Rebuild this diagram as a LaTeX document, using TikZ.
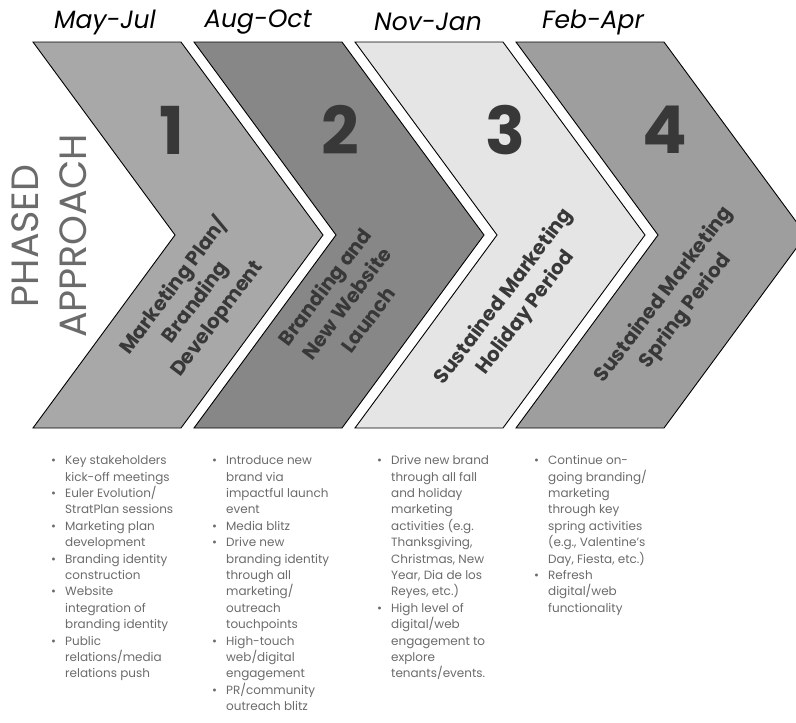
\documentclass[tikz,border=0pt]{standalone}
\usepackage{fontspec}
\setmainfont{Poppins}
\begin{document}
\begin{tikzpicture}[x=1pt,y=-1pt,
  chev/.style={draw=black,line width=0.9pt,line join=miter},
  month/.style={font=\fontsize{25}{25}\selectfont\itshape,text=black},
  num/.style={font=\fontsize{66}{66}\selectfont\bfseries,text=black!78},
  phase/.style={font=\fontsize{20}{27}\selectfont\bfseries,text=black!78,align=center,rotate=53},
  items/.style={anchor=north west,font=\fontsize{12}{16.4}\selectfont,text=black!58,inner sep=0pt}]
\path[use as bounding box] (0,0) rectangle (796,723);
\clip (0,0) rectangle (796,723);

\path[chev,fill=black!34] (33,42) -- (33+148,42) -- (33+290,235) -- (33+148,428) -- (33,428) -- (33+142,235) -- cycle;
\path[chev,fill=black!47] (194,42) -- (194+148,42) -- (194+290,235) -- (194+148,428) -- (194,428) -- (194+142,235) -- cycle;
\path[chev,fill=black!10] (355,42) -- (355+148,42) -- (355+290,235) -- (355+148,428) -- (355,428) -- (355+142,235) -- cycle;
\path[chev,fill=black!38] (516,42) -- (516+148,42) -- (516+290,235) -- (516+148,428) -- (516,428) -- (516+142,235) -- cycle;

\node[font=\fontsize{38}{48}\selectfont,text=black!58,rotate=90,align=center] (title) at (49,236) {PHASED\\APPROACH};

\node[month] (m1) at (33+72,22) {May-Jul};
\node[month] (m2) at (194+64,22) {Aug-Oct};
\node[month] (m3) at (355+73,22) {Nov-Jan};
\node[month] (m4) at (516+77,22) {Feb-Apr};

\node[num] (n1) at (33+139,130) {1};
\node[num] (n2) at (194+146,130) {2};
\node[num] (n3) at (355+150,130) {3};
\node[num] (n4) at (516+149,130) {4};

\node[phase] (p1) at (33+162,302) {Marketing Plan/\\Branding\\Development};
\node[phase] (p2) at (194+152,303) {Branding and\\New Website\\Launch};
\node[phase] (p3) at (355+160,305) {Sustained Marketing\\Holiday Period};
\node[phase] (p4) at (516+159,303) {Sustained Marketing\\Spring Period};

\node[items] (l1) at (33+18,453) {\begin{tabular}{@{}l@{\hspace{9pt}}l@{}}
\textbullet & Key stakeholders\\ & kick-off meetings\\
\textbullet & Euler Evolution/\\ & StratPlan sessions\\
\textbullet & Marketing plan\\ & development\\
\textbullet & Branding identity\\ & construction\\
\textbullet & Website\\ & integration of\\ & branding identity\\
\textbullet & Public\\ & relations/media\\ & relations push
\end{tabular}};
\node[items] (l2) at (194+18,453) {\begin{tabular}{@{}l@{\hspace{9pt}}l@{}}
\textbullet & Introduce new\\ & brand via\\ & impactful launch\\ & event\\
\textbullet & Media blitz\\
\textbullet & Drive new\\ & branding identity\\ & through all\\ & marketing/\\ & outreach\\ & touchpoints\\
\textbullet & High-touch\\ & web/digital\\ & engagement\\
\textbullet & PR/community\\ & outreach blitz
\end{tabular}};
\node[items] (l3) at (355+22,453) {\begin{tabular}{@{}l@{\hspace{9pt}}l@{}}
\textbullet & Drive new brand\\ & through all fall\\ & and holiday\\ & marketing\\ & activities (e.g.\\ & Thanksgiving,\\ & Christmas, New\\ & Year, Dia de los\\ & Reyes, etc.)\\
\textbullet & High level of\\ & digital/web\\ & engagement to\\ & explore\\ & tenants/events.
\end{tabular}};
\node[items] (l4) at (516+18,453) {\begin{tabular}{@{}l@{\hspace{9pt}}l@{}}
\textbullet & Continue on-\\ & going branding/\\ & marketing\\ & through key\\ & spring activities\\ & (e.g., Valentine's\\ & Day, Fiesta, etc.)\\
\textbullet & Refresh\\ & digital/web\\ & functionality
\end{tabular}};
\end{tikzpicture}
\end{document}
